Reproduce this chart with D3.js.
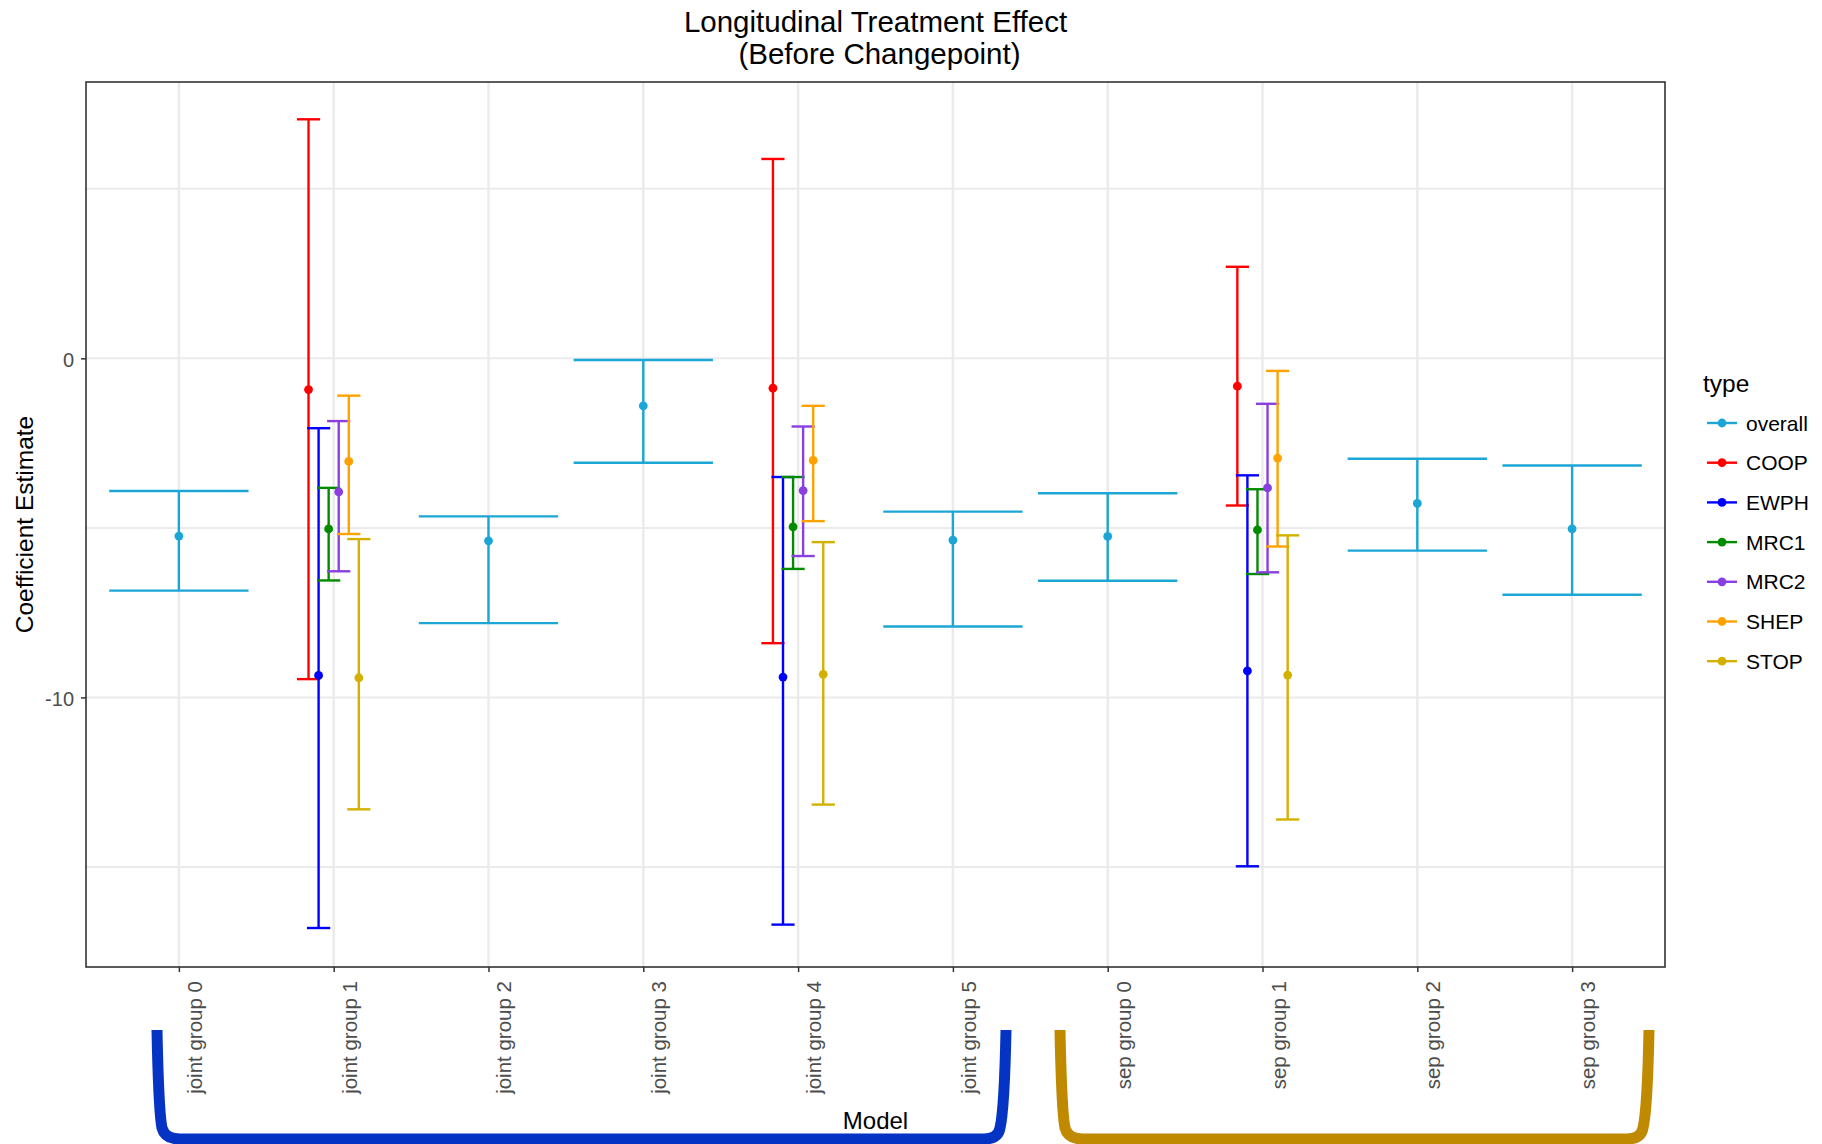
<!DOCTYPE html>
<html>
<head>
<meta charset="utf-8">
<script src="https://cdn.jsdelivr.net/npm/d3@7"></script>
<style>
  html, body { margin: 0; padding: 0; background: #fff; }
  svg { display: block; font-family: "Liberation Sans", Arial, sans-serif; }
</style>
</head>
<body>
<svg id="chart" width="1822" height="1144"></svg>
<script>
// Models on the x axis
const models = ["joint group 0", "joint group 1", "joint group 2", "joint group 3", "joint group 4",
                "joint group 5", "sep group 0", "sep group 1", "sep group 2", "sep group 3"];

// Legend order and colours
const types = ["overall", "COOP", "EWPH", "MRC1", "MRC2", "SHEP", "STOP"];
const typeColors = ["#1BA6D6", "#FF0000", "#0000FF", "#008B00", "#8A3FE0", "#FFA200", "#D4B000"];

// Pooled ("overall") estimates
const overallModels = ["joint group 0", "joint group 2", "joint group 3", "joint group 5",
                       "sep group 0", "sep group 2", "sep group 3"];
const overallEst  = [-5.24, -5.38, -1.40, -5.36, -5.25, -4.28, -5.03];
const overallLow  = [-6.85, -7.81, -3.08, -7.91, -6.56, -5.67, -6.97];
const overallHigh = [-3.91, -4.66, -0.05, -4.52, -3.98, -2.96, -3.16];

// Study-specific estimates
const studyModels = ["joint group 1", "joint group 4", "sep group 1"];
const studyTypes = ["COOP", "EWPH", "MRC1", "MRC2", "SHEP", "STOP"];

const coopEst  = [-0.92, -0.88, -0.82];
const coopLow  = [-9.46, -8.40, -4.34];
const coopHigh = [7.05, 5.88, 2.70];

const ewphEst  = [-9.35, -9.40, -9.22];
const ewphLow  = [-16.80, -16.70, -14.98];
const ewphHigh = [-2.06, -3.50, -3.45];

const mrc1Est  = [-5.03, -4.97, -5.06];
const mrc1Low  = [-6.55, -6.21, -6.36];
const mrc1High = [-3.82, -3.50, -3.86];

const mrc2Est  = [-3.94, -3.90, -3.82];
const mrc2Low  = [-6.28, -5.83, -6.31];
const mrc2High = [-1.85, -2.01, -1.34];

const shepEst  = [-3.04, -3.01, -2.94];
const shepLow  = [-5.18, -4.80, -5.55];
const shepHigh = [-1.10, -1.40, -0.37];

const stopEst  = [-9.42, -9.32, -9.34];
const stopLow  = [-13.30, -13.16, -13.60];
const stopHigh = [-5.33, -5.42, -5.22];

// y-axis breaks
const yMajor = [0, -10];
const yGrid = [5, 0, -5, -10, -15];
const yTickLabels = ["0", "-10"];

// ---- build rows ----
const rows = [];
overallModels.forEach((m, i) => rows.push({model: m, type: "overall", est: overallEst[i], low: overallLow[i], high: overallHigh[i]}));
const studyEst = [coopEst, ewphEst, mrc1Est, mrc2Est, shepEst, stopEst];
const studyLow = [coopLow, ewphLow, mrc1Low, mrc2Low, shepLow, stopLow];
const studyHigh = [coopHigh, ewphHigh, mrc1High, mrc2High, shepHigh, stopHigh];
studyModels.forEach((m, j) => {
  studyTypes.forEach((t, k) => rows.push({model: m, type: t, est: studyEst[k][j], low: studyLow[k][j], high: studyHigh[k][j]}));
});

// ---- layout ----
const svg = d3.select("#chart");
const panel = {left: 86, right: 1665, top: 82, bottom: 967};

const x = d3.scalePoint().domain(models).range([panel.left, panel.right]).padding(0.6);
const y = d3.scaleLinear().domain([-17.95, 8.15]).range([panel.bottom, panel.top]);
const color = d3.scaleOrdinal().domain(types).range(typeColors);

const step = x.step();
const dodgeWidth = 0.39 * step;
const capFull = 0.9 * step;

// dodge position within a model
function dodgeInfo(r) {
  const members = rows.filter(q => q.model === r.model);
  const n = members.length;
  const idx = members.findIndex(q => q.type === r.type);
  if (n === 1) return {cx: x(r.model), cap: capFull};
  const sub = dodgeWidth / n;
  return {cx: x(r.model) - dodgeWidth / 2 + sub * (idx + 0.5), cap: capFull / n};
}
rows.forEach(r => Object.assign(r, dodgeInfo(r)));

// ---- panel background and grid ----
svg.append("rect")
  .attr("x", panel.left).attr("y", panel.top)
  .attr("width", panel.right - panel.left).attr("height", panel.bottom - panel.top)
  .attr("fill", "#fff");

svg.append("g").selectAll("line").data(yGrid).join("line")
  .attr("x1", panel.left).attr("x2", panel.right)
  .attr("y1", d => y(d)).attr("y2", d => y(d))
  .attr("stroke", "#EBEBEB").attr("stroke-width", 2);

svg.append("g").selectAll("line").data(models).join("line")
  .attr("x1", d => x(d)).attr("x2", d => x(d))
  .attr("y1", panel.top).attr("y2", panel.bottom)
  .attr("stroke", "#EBEBEB").attr("stroke-width", 2.5);

// ---- error bars ----
const gBars = svg.append("g");
const bars = gBars.selectAll("g").data(rows).join("g")
  .attr("stroke", d => color(d.type))
  .attr("stroke-width", 2.4)
  .attr("fill", "none");

bars.append("line")
  .attr("x1", d => d.cx).attr("x2", d => d.cx)
  .attr("y1", d => y(d.high)).attr("y2", d => y(d.low));
bars.append("line")
  .attr("x1", d => d.cx - d.cap / 2).attr("x2", d => d.cx + d.cap / 2)
  .attr("y1", d => y(d.high)).attr("y2", d => y(d.high));
bars.append("line")
  .attr("x1", d => d.cx - d.cap / 2).attr("x2", d => d.cx + d.cap / 2)
  .attr("y1", d => y(d.low)).attr("y2", d => y(d.low));

gBars.selectAll("circle").data(rows).join("circle")
  .attr("cx", d => d.cx).attr("cy", d => y(d.est))
  .attr("r", 4.4)
  .attr("fill", d => color(d.type));

// ---- panel border ----
svg.append("rect")
  .attr("x", panel.left).attr("y", panel.top)
  .attr("width", panel.right - panel.left).attr("height", panel.bottom - panel.top)
  .attr("fill", "none").attr("stroke", "#333333").attr("stroke-width", 1.6);

// ---- axes ----
const yAxis = d3.axisLeft(y).tickValues(yMajor)
  .tickFormat((d, i) => yTickLabels[i]).tickSize(5).tickPadding(7);
const gy = svg.append("g").attr("transform", `translate(${panel.left},0)`).call(yAxis);
gy.select(".domain").remove();
gy.selectAll(".tick line").attr("stroke", "#333").attr("stroke-width", 1.5);
gy.selectAll(".tick text").attr("fill", "#4D4D4D").style("font-size", "20px")
  .style("font-family", "Liberation Sans, Arial, sans-serif")
  .attr("dy", "0.4em");

const xAxis = d3.axisBottom(x).tickSize(5).tickPadding(0);
const gx = svg.append("g").attr("transform", `translate(0,${panel.bottom})`).call(xAxis);
gx.select(".domain").remove();
gx.selectAll(".tick line").attr("stroke", "#333").attr("stroke-width", 1.5);
gx.selectAll(".tick text")
  .attr("fill", "#4D4D4D").style("font-size", "20.5px")
  .style("font-family", "Liberation Sans, Arial, sans-serif")
  .attr("text-anchor", "end")
  .attr("dy", null)
  .attr("y", 0)
  .attr("transform", "translate(15,14) rotate(-90)")
  .attr("dominant-baseline", "central");

// ---- titles ----
const cxPanel = (panel.left + panel.right) / 2;
svg.append("text").attr("x", cxPanel).attr("y", 32).attr("text-anchor", "middle")
  .style("font-size", "29.5px").attr("fill", "#000").text("Longitudinal Treatment Effect");
svg.append("text").attr("x", cxPanel + 4).attr("y", 64).attr("text-anchor", "middle")
  .style("font-size", "29.5px").attr("fill", "#000").text("(Before Changepoint)");

svg.append("text")
  .attr("transform", `translate(33,${(panel.top + panel.bottom) / 2}) rotate(-90)`)
  .attr("text-anchor", "middle")
  .style("font-size", "24.5px").attr("fill", "#000").text("Coefficient Estimate");

// ---- group brackets under the axis ----
svg.append("path")
  .attr("d", "M157,1030 C158,1080 160,1118 162,1128 Q165,1139 180,1139 L984,1139 Q998,1139 1000,1128 C1003,1115 1005,1080 1006,1030")
  .attr("fill", "none").attr("stroke", "#0533C4").attr("stroke-width", 11);
svg.append("path")
  .attr("d", "M1060,1030 C1061,1080 1063,1118 1065,1128 Q1068,1139 1083,1139 L1627,1139 Q1641,1139 1643,1128 C1646,1115 1648,1080 1649,1030")
  .attr("fill", "none").attr("stroke", "#BF8A00").attr("stroke-width", 11);

svg.append("text").attr("x", cxPanel).attr("y", 1129).attr("text-anchor", "middle")
  .style("font-size", "24px").attr("fill", "#000").text("Model");

// ---- legend ----
const legend = svg.append("g");
legend.append("text").attr("x", 1703).attr("y", 392)
  .style("font-size", "24.5px").attr("fill", "#000").text("type");
const keys = legend.selectAll("g.key").data(types).join("g").attr("class", "key")
  .attr("transform", (d, i) => `translate(0,${423 + i * 39.7})`);
keys.append("line").attr("x1", 1707).attr("x2", 1737).attr("y1", 0).attr("y2", 0)
  .attr("stroke", d => color(d)).attr("stroke-width", 2.4);
keys.append("circle").attr("cx", 1722).attr("cy", 0).attr("r", 4.4).attr("fill", d => color(d));
keys.append("text").attr("x", 1746).attr("y", 0).attr("dy", "0.36em")
  .style("font-size", "21px").attr("fill", "#000").text(d => d);
</script>
</body>
</html>
